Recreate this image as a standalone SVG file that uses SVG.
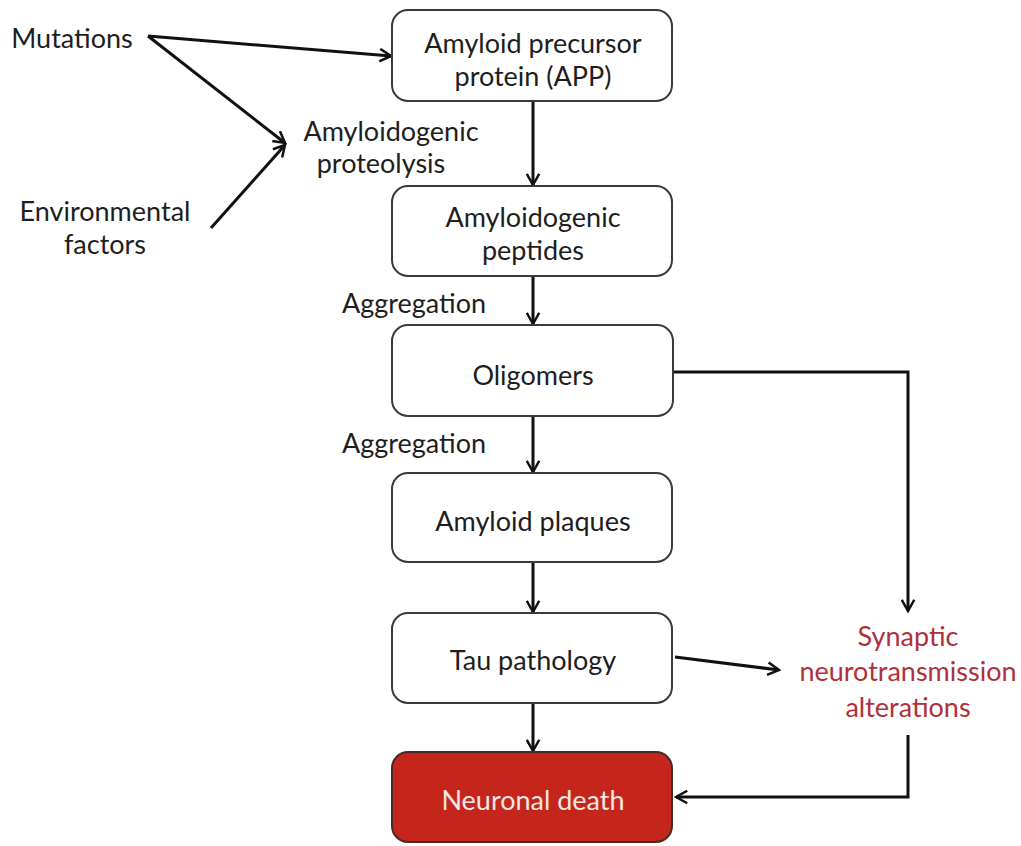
<svg xmlns="http://www.w3.org/2000/svg" width="1021" height="846" viewBox="0 0 1021 846">
<style>
.box{fill:#fff;stroke:#3a3a3a;stroke-width:2}
.red{fill:#c4261b;stroke:#4a2a25;stroke-width:2}
.t{font-family:Lato,"Liberation Sans",sans-serif;font-size:27px;fill:#1e1e1e;text-anchor:middle}
.tw{fill:#f4e6e4}
.tr{fill:#b0303a}
.c{fill:none;stroke:#111;stroke-width:3;marker-end:url(#ah)}
</style>
<defs>
<marker id="ah" viewBox="0 0 12 12" refX="10" refY="6" markerWidth="5" markerHeight="5" markerUnits="strokeWidth" orient="auto">
<path d="M1,1 L10,6 L1,11" fill="none" stroke="#111" stroke-width="2"/>
</marker>
</defs>
<rect width="1021" height="846" fill="#fff"/>
<g id="connectors">
<path class="c" d="M148,36 L391,56"/>
<path class="c" d="M148,36 L285,143"/>
<path class="c" d="M211,228 L285,145"/>
<path class="c" d="M533,101 L533,185"/>
<path class="c" d="M533,276 L533,324"/>
<path class="c" d="M533,416 L533,472"/>
<path class="c" d="M533,562 L533,612"/>
<path class="c" d="M533,703 L533,751"/>
<path class="c" d="M674,372 L908,372 L908,611"/>
<path class="c" d="M675,657 L779,670"/>
<path class="c" d="M908,735 L908,797 L676,797"/>
</g>
<g id="mutations"><text class="t" x="72" y="48">Mutations</text></g>
<g id="environmental"><text class="t" x="105" y="221">Environmental</text><text class="t" x="105" y="254">factors</text></g>
<g id="proteolysis"><text class="t" x="391" y="141">Amyloidogenic</text><text class="t" x="381" y="173">proteolysis</text></g>
<g id="agg1"><text class="t" x="414" y="313">Aggregation</text></g>
<g id="agg2"><text class="t" x="414" y="453">Aggregation</text></g>
<g id="app"><rect class="box" x="392" y="10" width="280" height="91" rx="16"/><text class="t" x="533" y="53">Amyloid precursor</text><text class="t" x="533" y="86">protein (APP)</text></g>
<g id="peptides"><rect class="box" x="392" y="186" width="280" height="90" rx="16"/><text class="t" x="533" y="227">Amyloidogenic</text><text class="t" x="533" y="260">peptides</text></g>
<g id="oligomers"><rect class="box" x="392" y="325" width="281" height="91" rx="16"/><text class="t" x="533" y="385">Oligomers</text></g>
<g id="plaques"><rect class="box" x="392" y="473" width="280" height="89" rx="16"/><text class="t" x="533" y="531">Amyloid plaques</text></g>
<g id="tau"><rect class="box" x="392" y="613" width="280" height="90" rx="16"/><text class="t" x="533" y="670">Tau pathology</text></g>
<g id="death"><rect class="red" x="392" y="752" width="280" height="90" rx="16"/><text class="t tw" x="533" y="810">Neuronal death</text></g>
<g id="synaptic"><text class="t tr" x="908" y="646">Synaptic</text><text class="t tr" x="908" y="681">neurotransmission</text><text class="t tr" x="908" y="717">alterations</text></g>
</svg>
